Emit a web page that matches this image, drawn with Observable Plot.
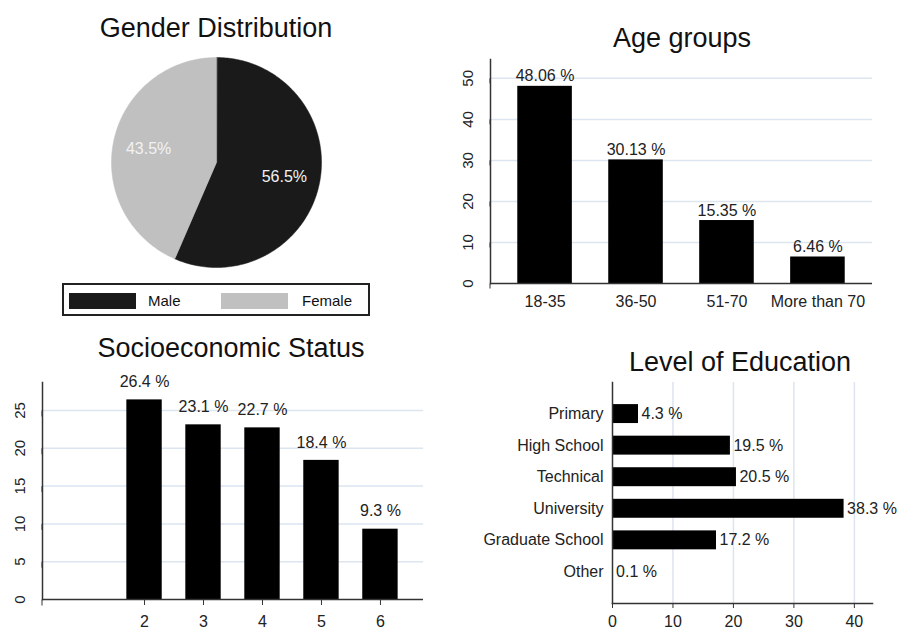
<!DOCTYPE html>
<html>
<head>
<meta charset="utf-8">
<script src="https://cdn.jsdelivr.net/npm/d3@7"></script>
<script src="https://cdn.jsdelivr.net/npm/@observablehq/plot@0.6"></script>
<style>
  html, body { margin: 0; padding: 0; background: #fff; }
  #root { position: relative; width: 898px; height: 629px; overflow: hidden; font-family: "Liberation Sans", Arial, sans-serif; color: #111; }
  .panel { position: absolute; }
  .title { position: absolute; font-size: 27px; line-height: 27px; text-align: center; white-space: nowrap; color: #111; }
  .legend { position: absolute; left: 62px; top: 283px; width: 304px; height: 29px; border: 2px solid #222; font-size: 15px; }
  .sw { position: absolute; top: 8px; height: 16px; width: 67px; }
  .lt { position: absolute; top: 7px; line-height: 18px; }
</style>
</head>
<body>
<div id="root"></div>
<script>
// ---------- DATA ----------
const genders = ["Male", "Female"];
const genderPct = [56.5, 43.5];
const genderColors = ["#1a1a1a", "#c0c0c0"];

const ageGroups = ["18-35", "36-50", "51-70", "More than 70"];
const agePct = [48.06, 30.13, 15.35, 6.46];

const sesLevels = ["1", "2", "3", "4", "5", "6"];
const sesShown = ["2", "3", "4", "5", "6"];
const sesPct = [26.4, 23.1, 22.7, 18.4, 9.3];

const eduLevels = ["Primary", "High School", "Technical", "University", "Graduate School", "Other"];
const eduPct = [4.3, 19.5, 20.5, 38.3, 17.2, 0.1];

// ---------- HELPERS ----------
const root = document.getElementById("root");
const FONT = "Liberation Sans, Arial, sans-serif";
const GRID = "#dde5f0";
const AXIS = "#333";

function place(el, left, top) {
  const d = document.createElement("div");
  d.className = "panel";
  d.style.left = left + "px";
  d.style.top = top + "px";
  d.appendChild(el);
  root.appendChild(d);
}
function title(text, cx, top, w) {
  const t = document.createElement("div");
  t.className = "title";
  t.textContent = text;
  t.style.left = (cx - w / 2) + "px";
  t.style.top = top + "px";
  t.style.width = w + "px";
  root.appendChild(t);
}
const style = {fontFamily: FONT, fontSize: "16px", color: "#222", background: "transparent", overflow: "visible"};

// ---------- GENDER PIE ----------
const total = d3.sum(genderPct);
let acc = 0;
const slices = genders.map((g, i) => {
  const a0 = acc / total * 2 * Math.PI;
  acc += genderPct[i];
  const a1 = acc / total * 2 * Math.PI;
  const pts = [{x: 0, y: 0}];
  const n = Math.max(2, Math.ceil((a1 - a0) / (Math.PI / 180)));
  for (let k = 0; k <= n; k++) {
    const a = a0 + (a1 - a0) * k / n;
    pts.push({x: Math.sin(a), y: Math.cos(a)});
  }
  const am = (a0 + a1) / 2;
  return {name: g, pct: genderPct[i], pts, lx: 0.66 * Math.sin(am), ly: 0.66 * Math.cos(am), color: genderColors[i]};
});
const pie = Plot.plot({
  width: 220, height: 220,
  marginTop: 5, marginRight: 5, marginBottom: 5, marginLeft: 5,
  style,
  x: {domain: [-1, 1], axis: null},
  y: {domain: [-1, 1], axis: null},
  marks: [
    ...slices.map(s => Plot.line(s.pts, {x: "x", y: "y", curve: "linear-closed", fill: s.color, stroke: s.color, strokeWidth: 0.5})),
    Plot.text(slices, {x: "lx", y: "ly", text: d => d.pct + "%", fill: "#f2f2f2", fontSize: 16})
  ]
});
place(pie, 106, 52);
title("Gender Distribution", 216, 15, 300);

// legend
const lg = document.createElement("div");
lg.className = "legend";
const swX = [5, 157], txX = [84, 238];
genders.forEach((g, i) => {
  const s = document.createElement("div");
  s.className = "sw"; s.style.left = swX[i] + "px"; s.style.background = genderColors[i];
  const t = document.createElement("div");
  t.className = "lt"; t.style.left = txX[i] + "px"; t.textContent = g;
  lg.appendChild(s); lg.appendChild(t);
});
root.appendChild(lg);

// ---------- AGE GROUPS ----------
const ageData = ageGroups.map((g, i) => ({group: g, pct: agePct[i]}));
const age = Plot.plot({
  width: 440, height: 270,
  marginLeft: 50, marginRight: 8, marginTop: 9, marginBottom: 37,
  style,
  x: {domain: ageGroups, paddingInner: 0.4, paddingOuter: 0.3, round: false, label: null},
  y: {domain: [0, 54.6], label: null},
  marks: [
    Plot.gridY([10, 20, 30, 40, 50], {stroke: GRID, strokeOpacity: 1, strokeWidth: 1.5}),
    Plot.barY(ageData, {x: "group", y: "pct", fill: "#000"}),
    Plot.text(ageData, {x: "group", y: "pct", text: d => d.pct.toFixed(2) + " %", dy: -10, fontSize: 16, fill: "#222"}),
    Plot.axisX({tickSize: 0, tickPadding: 12, fontSize: 16, label: null}),
    Plot.axisY([0, 10, 20, 30, 40, 50], {tickSize: 5, tickPadding: 17, rotate: -90, textAnchor: "middle", fontSize: 15, label: null, stroke: AXIS}),
    Plot.frame({anchor: "left", stroke: AXIS, strokeWidth: 1.5}),
    Plot.ruleY([0], {stroke: AXIS, strokeWidth: 1.5})
  ]
});
place(age, 440, 50);
title("Age groups", 682, 25, 300);

// ---------- SOCIOECONOMIC STATUS ----------
const sesData = sesShown.map((l, i) => ({level: l, pct: sesPct[i]}));
const ses = Plot.plot({
  width: 440, height: 259,
  marginLeft: 42, marginRight: 17, marginTop: 12, marginBottom: 30,
  style,
  x: {domain: sesLevels, paddingInner: 0.4, paddingOuter: 0.43, round: false, label: null},
  y: {domain: [0, 28.7], label: null},
  marks: [
    Plot.gridY([5, 10, 15, 20, 25], {stroke: GRID, strokeOpacity: 1, strokeWidth: 1.5}),
    Plot.barY(sesData, {x: "level", y: "pct", fill: "#000"}),
    Plot.text(sesData, {x: "level", y: "pct", text: d => d.pct + " %", dy: -18, fontSize: 16, fill: "#222"}),
    Plot.axisX(sesShown, {tickSize: 6, tickPadding: 10, fontSize: 16, label: null, stroke: AXIS}),
    Plot.axisY([0, 5, 10, 15, 20, 25], {tickSize: 6, tickPadding: 16, rotate: -90, textAnchor: "middle", fontSize: 15, label: null, stroke: AXIS}),
    Plot.frame({anchor: "left", stroke: AXIS, strokeWidth: 1.5}),
    Plot.ruleY([0], {stroke: AXIS, strokeWidth: 1.5})
  ]
});
place(ses, 0, 370);
title("Socioeconomic Status", 231, 335, 400);

// ---------- LEVEL OF EDUCATION ----------
const eduData = eduLevels.map((l, i) => ({level: l, pct: eduPct[i]}));
const edu = Plot.plot({
  width: 440, height: 254,
  marginLeft: 162, marginRight: 18, marginTop: 7, marginBottom: 26,
  style,
  x: {domain: [0, 43], label: null},
  y: {domain: eduLevels, paddingInner: 0.4, paddingOuter: 0.7, round: false, label: null},
  marks: [
    Plot.gridX([10, 20, 30, 40], {stroke: GRID, strokeOpacity: 1, strokeWidth: 1.5}),
    Plot.barX(eduData, {y: "level", x: "pct", fill: "#000"}),
    Plot.text(eduData, {y: "level", x: "pct", text: d => d.pct + " %", textAnchor: "start", dx: 3, fontSize: 16, fill: "#222"}),
    Plot.axisX([0, 10, 20, 30, 40], {tickSize: 5, tickPadding: 7, fontSize: 16, label: null, stroke: AXIS}),
    Plot.axisY({tickSize: 0, tickPadding: 9, fontSize: 16, label: null}),
    Plot.frame({anchor: "left", stroke: AXIS, strokeWidth: 1.5}),
    Plot.frame({anchor: "bottom", stroke: AXIS, strokeWidth: 1.5})
  ]
});
place(edu, 450, 375);
title("Level of Education", 740, 349, 400);
</script>
</body>
</html>
